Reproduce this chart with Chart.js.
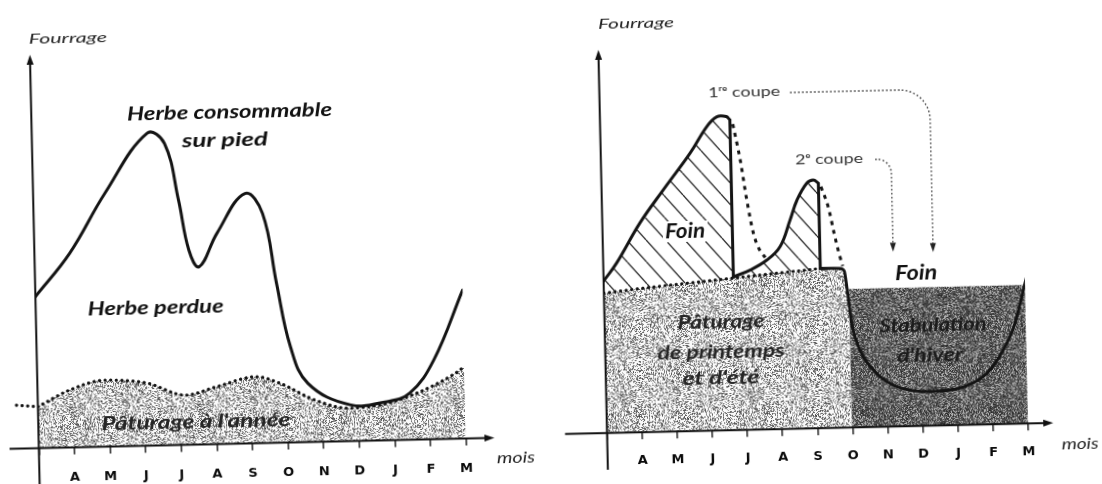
<!DOCTYPE html>
<html><head><meta charset="utf-8">
<script src="https://cdn.jsdelivr.net/npm/chart.js@4.4.1/dist/chart.umd.min.js"></script>
<style>
html,body{margin:0;padding:0;background:#fff;overflow:hidden}
#wrap{position:relative;width:1102px;height:484px;transform:rotate(-1.3deg);transform-origin:551px 242px;background:#fff}
canvas{position:absolute;top:0}
#c1{left:0}#c2{left:551px}
</style></head><body>
<div id="wrap"><canvas id="c1" width="551" height="484"></canvas><canvas id="c2" width="551" height="484"></canvas></div>
<script>
// ---------- data ----------
const months = ['A','M','J','J','A','S','O','N','D','J','F','M'];

// Panel 1 : herbe consommable sur pied / pâturage à l'année
const herbeX = [0, 0.99, 2.02, 3.24, 3.72, 4.08, 4.34, 4.62, 5.14, 5.95, 6.43, 6.78, 7.13, 7.6, 8.76, 9.75, 10.45, 11.15, 12];
const herbeY = [38.8, 49.7, 64.9, 80.0, 77.3, 62.7, 49.8, 45.5, 54.0, 64.0, 58.8, 40.8, 24.5, 15.0, 9.3, 9.8, 11.9, 20.3, 38.0];
const patAnneeX = [0, 0.91, 1.9, 3.08, 4.15, 5.04, 6.13, 6.81, 7.78, 8.76, 9.75, 10.74, 11.74, 12];
const patAnneeY = [10.6, 14.7, 17.0, 16.0, 12.7, 14.7, 17.0, 15.2, 10.7, 8.4, 9.3, 12.2, 16.7, 18.4];
const patAnneeLeadX = [-0.6, 0];
const patAnneeLeadY = [11.1, 10.6];

// Panel 2 : foin, pâturage de printemps et d'été, stabulation d'hiver
const coupe1X = [0, 0.38, 1.07, 1.76, 2.54, 3.04, 3.33, 3.6, 3.7];
const coupe1Y = [40.0, 44.6, 55.0, 63.6, 73.0, 80.0, 82.5, 82.5, 81.6];
const cut1X = [3.7, 3.7];
const cut1Y = [81.6, 40.3];
const repousse1X = [3.78, 3.97, 4.13, 4.3, 4.45, 4.62];
const repousse1Y = [80.5, 71.0, 60.5, 51.6, 47.5, 45.2];
const coupe2X = [3.7, 4.18, 4.66, 5.05, 5.35, 5.56, 5.85, 6.04, 6.18];
const coupe2Y = [40.3, 42.0, 44.5, 48.0, 54.9, 60.1, 64.5, 65.3, 64.4];
const cut2X = [6.18, 6.18];
const cut2Y = [64.4, 42.0];
const repousse2X = [6.25, 6.45, 6.6, 6.72, 6.82];
const repousse2Y = [63.5, 58.0, 51.0, 46.0, 42.5];
const paturageX = [0, 1.51, 3.6, 6.18];
const paturageY = [36.8, 38.2, 39.9, 42.0];
const paturageZoneX = [0, 1.51, 3.6, 6.18, 6.74, 6.86, 6.93, 6.97, 6.97];
const paturageZoneY = [36.8, 38.2, 39.9, 42.0, 41.9, 41.2, 36.5, 30.0, 0];
const stabulationX = [6.97, 12];
const stabulationY = [36.4, 36.4];
const hiverX = [6.18, 6.74, 6.86, 6.93, 7.04, 7.26, 7.72, 8.28, 9.23, 10.18, 10.85, 11.34, 11.69, 11.9, 12.06];
const hiverY = [42.0, 41.9, 41.2, 36.5, 27.4, 20.3, 14.1, 10.5, 9.0, 10.0, 13.4, 19.5, 26.4, 33.4, 39.0];

// ---------- helpers ----------
const pts = (xs, ys) => xs.map((x, i) => ({x: x, y: ys[i]}));
function hash(n){ const s = Math.sin(n * 12.9898 + 78.233) * 43758.5453; return s - Math.floor(s); }
function stipple(size, density, dotLo, dotSpan, base, seed){
  const c = document.createElement('canvas'); c.width = c.height = size;
  const g = c.getContext('2d');
  const img = g.createImageData(size, size);
  for (let k = 0; k < size * size; k++) {
    let v = base;
    if (hash(k + seed) < density) v = Math.round(dotLo + hash(k * 3.17 + 11 + seed) * dotSpan);
    img.data[k * 4] = img.data[k * 4 + 1] = img.data[k * 4 + 2] = v;
    img.data[k * 4 + 3] = 255;
  }
  g.putImageData(img, 0, 0);
  return g.createPattern(c, 'repeat');
}
function hatch(w, h){
  const c = document.createElement('canvas'); c.width = w; c.height = h;
  const g = c.getContext('2d');
  g.fillStyle = '#fff'; g.fillRect(0, 0, w, h);
  g.strokeStyle = '#2a2a2a'; g.lineWidth = 1.3;
  for (const dx of [-w, 0, w]) { g.beginPath(); g.moveTo(dx, 0); g.lineTo(dx + w, h); g.stroke(); }
  return g.createPattern(c, 'repeat');
}
function txt(ctx, s, cx, cy, w, font, color){
  ctx.save(); ctx.font = font; ctx.fillStyle = color; ctx.textAlign = 'center'; ctx.textBaseline = 'middle';
  const m = ctx.measureText(s).width;
  ctx.translate(cx, cy); ctx.scale(w / m, 1); ctx.fillText(s, 0, 0); ctx.restore();
}
function arrowHead(ctx, x, y, ang, len, wid, color){
  ctx.save(); ctx.fillStyle = color; ctx.setLineDash([]);
  ctx.beginPath(); ctx.moveTo(x, y);
  ctx.lineTo(x - Math.cos(ang) * len + Math.sin(ang) * wid / 2, y - Math.sin(ang) * len - Math.cos(ang) * wid / 2);
  ctx.lineTo(x - Math.cos(ang) * len - Math.sin(ang) * wid / 2, y - Math.sin(ang) * len + Math.cos(ang) * wid / 2);
  ctx.closePath(); ctx.fill(); ctx.restore();
}
function axes(ctx, ca, xStart, xEnd, yBottom){
  ctx.save(); ctx.strokeStyle = '#111'; ctx.lineWidth = 2; ctx.setLineDash([]);
  ctx.beginPath(); ctx.moveTo(xStart, ca.bottom); ctx.lineTo(xEnd - 6, ca.bottom); ctx.stroke();
  arrowHead(ctx, xEnd, ca.bottom, 0, 10, 7, '#111');
  ctx.beginPath(); ctx.moveTo(ca.left, yBottom); ctx.lineTo(ca.left, ca.top + 4); ctx.stroke();
  arrowHead(ctx, ca.left, ca.top - 3, -Math.PI / 2, 10, 7, '#111');
  ctx.restore();
}

const lightStipple = stipple(128, 0.42, 70, 100, 250, 17);
const darkStipple = stipple(128, 0.75, 40, 80, 175, 91);
const hatchFill = hatch(19, 22);

function baseOptions(pad, axisH, tickPad){
  return {
    responsive: false, animation: false, events: [],
    layout: {padding: pad},
    plugins: {legend: {display: false}, tooltip: {enabled: false}},
    elements: {point: {radius: 0, hoverRadius: 0}},
    scales: {
      x: {type: 'linear', min: 0, max: 12, position: 'bottom',
        afterFit(s){ s.height = axisH; },
        grid: {display: true, drawOnChartArea: false, drawTicks: true, tickLength: 7, color: '#222', lineWidth: 1.5},
        border: {display: false},
        ticks: {stepSize: 1, autoSkip: false, maxRotation: 0, minRotation: 0, padding: tickPad, color: '#0a0a0a',
          font: {family: 'DejaVu Sans', weight: 'bold', size: 13},
          callback: (v) => months[v - 1] || ''}
      },
      y: {type: 'linear', display: false, min: 0, max: 100}
    }
  };
}
function line(xs, ys, o){
  return Object.assign({data: pts(xs, ys), borderColor: '#141414', borderWidth: 3, fill: false, pointRadius: 0,
    cubicInterpolationMode: 'monotone', borderCapStyle: 'round', borderJoinStyle: 'round', order: 0}, o);
}
function zone(xs, ys, bg, order, o){
  return Object.assign({data: pts(xs, ys), borderColor: 'rgba(0,0,0,0)', borderWidth: 0, backgroundColor: bg,
    fill: 'origin', pointRadius: 0, tension: 0, order: order}, o);
}
const dots = {borderDash: [0.1, 5.5], borderWidth: 3.2, borderCapStyle: 'round'};
const smooth = {cubicInterpolationMode: 'default', tension: 0.4};

// ---------- chart 1 ----------
new Chart(document.getElementById('c1'), {
  type: 'line',
  data: {datasets: [
    line(herbeX, herbeY, Object.assign({label: 'Herbe consommable sur pied', order: 0}, smooth)),
    line(patAnneeX, patAnneeY, Object.assign({label: "Pâturage à l'année", fill: 'origin', backgroundColor: lightStipple, order: 2}, dots)),
    line(patAnneeLeadX, patAnneeLeadY, Object.assign({label: 'amorce', clip: false, tension: 0, cubicInterpolationMode: 'default', order: 1}, dots))
  ]},
  options: baseOptions({left: 34.3, right: 89.5, top: 46, bottom: 0}, 47.6, 15),
  plugins: [{id: 'deco1', afterDraw(chart){
    const ctx = chart.ctx, ca = chart.chartArea;
    axes(ctx, ca, 5, 490, 484);
    txt(ctx, 'Fourrage', 72.6, 27, 78, 'italic 14px Lato', '#222');
    txt(ctx, 'Herbe consommable', 232.5, 104.4, 205, 'italic bold 19px Lato', '#111');
    txt(ctx, 'sur pied', 227.3, 132.6, 86, 'italic bold 19px Lato', '#111');
    txt(ctx, 'Herbe perdue', 154.3, 299, 136, 'italic bold 19px Lato', '#111');
    txt(ctx, "Pâturage à l'année", 191.9, 413.6, 189, 'italic bold 19px Lato', '#262626');
    txt(ctx, 'mois', 511.1, 457.5, 38, 'italic 15px Lato', '#222');
  }}]
});

// ---------- chart 2 ----------
new Chart(document.getElementById('c2'), {
  type: 'line',
  data: {datasets: [
    zone(coupe1X, coupe1Y, hatchFill, 8, Object.assign({label: 'Foin 1'}, smooth)),
    zone(coupe2X, coupe2Y, hatchFill, 8, Object.assign({label: 'Foin 2'}, smooth)),
    zone(stabulationX, stabulationY, darkStipple, 7, {label: "Stabulation d'hiver"}),
    zone(paturageZoneX, paturageZoneY, lightStipple, 6, {label: "Pâturage de printemps et d'été"}),
    line(paturageX, paturageY, Object.assign({label: 'limite pâturage', order: 3}, dots)),
    line(repousse1X, repousse1Y, {label: 'repousse 1', borderDash: [4, 5], borderCapStyle: 'butt', order: 2}),
    line(repousse2X, repousse2Y, {label: 'repousse 2', borderDash: [4, 5], borderCapStyle: 'butt', order: 2}),
    line(coupe1X, coupe1Y, Object.assign({label: '1re coupe'}, smooth)),
    line(cut1X, cut1Y, {label: 'fauche 1', tension: 0, cubicInterpolationMode: 'default'}),
    line(coupe2X, coupe2Y, Object.assign({label: '2e coupe'}, smooth)),
    line(cut2X, cut2Y, {label: 'fauche 2', tension: 0, cubicInterpolationMode: 'default'}),
    line(hiverX, hiverY, {label: 'hiver'})
  ]},
  options: baseOptions({left: 51.7, right: 78.1, top: 54, bottom: 0}, 49.7, 14),
  plugins: [{id: 'deco2', afterDraw(chart){
    const ctx = chart.ctx, ca = chart.chartArea;
    axes(ctx, ca, 9.7, 498, 471);
    // coupe arrows
    ctx.save(); ctx.strokeStyle = '#3a3a3a'; ctx.lineWidth = 1.4; ctx.setLineDash([1.6, 2.4]);
    ctx.beginPath(); ctx.moveTo(242.4, 98); ctx.lineTo(352, 98); ctx.arcTo(381.8, 98, 381.8, 128, 30); ctx.lineTo(381.8, 252); ctx.stroke();
    ctx.beginPath(); ctx.moveTo(326, 166.7); ctx.lineTo(328, 166.7); ctx.arcTo(341.8, 166.7, 341.8, 185, 14); ctx.lineTo(341.8, 251); ctx.stroke();
    ctx.restore();
    arrowHead(ctx, 381.8, 260.7, Math.PI / 2, 9, 6, '#222');
    arrowHead(ctx, 341.8, 259.5, Math.PI / 2, 9, 6, '#222');
    // labels
    txt(ctx, 'Fourrage', 90, 25.2, 76, 'italic 14px Lato', '#222');
    txt(ctx, '1ʳᵉ coupe', 196.4, 96.1, 72, '14px Lato', '#333');
    txt(ctx, '2ᵉ coupe', 279.9, 165.6, 68, '14px Lato', '#333');
    ctx.save(); ctx.fillStyle = '#fff'; ctx.fillRect(112, 224, 45, 21); ctx.restore();
    txt(ctx, 'Foin', 134.2, 234.7, 40, 'italic bold 20px Lato', '#111');
    txt(ctx, 'Foin', 364.3, 281.6, 42, 'italic bold 20px Lato', '#111');
    txt(ctx, 'Pâturage', 168.2, 325.6, 87, 'italic bold 19px Lato', '#262626');
    txt(ctx, 'de printemps', 167.5, 355.6, 127, 'italic bold 19px Lato', '#262626');
    txt(ctx, "et d'été", 166.9, 382.2, 77, 'italic bold 19px Lato', '#262626');
    txt(ctx, 'Stabulation', 380.1, 333.7, 107, 'italic bold 19px Lato', '#1c1c1c');
    txt(ctx, "d'hiver", 376.4, 363.6, 66, 'italic bold 19px Lato', '#1c1c1c');
    txt(ctx, 'mois', 524.4, 456, 37, 'italic 15px Lato', '#222');
  }}]
});
</script>
</body></html>
